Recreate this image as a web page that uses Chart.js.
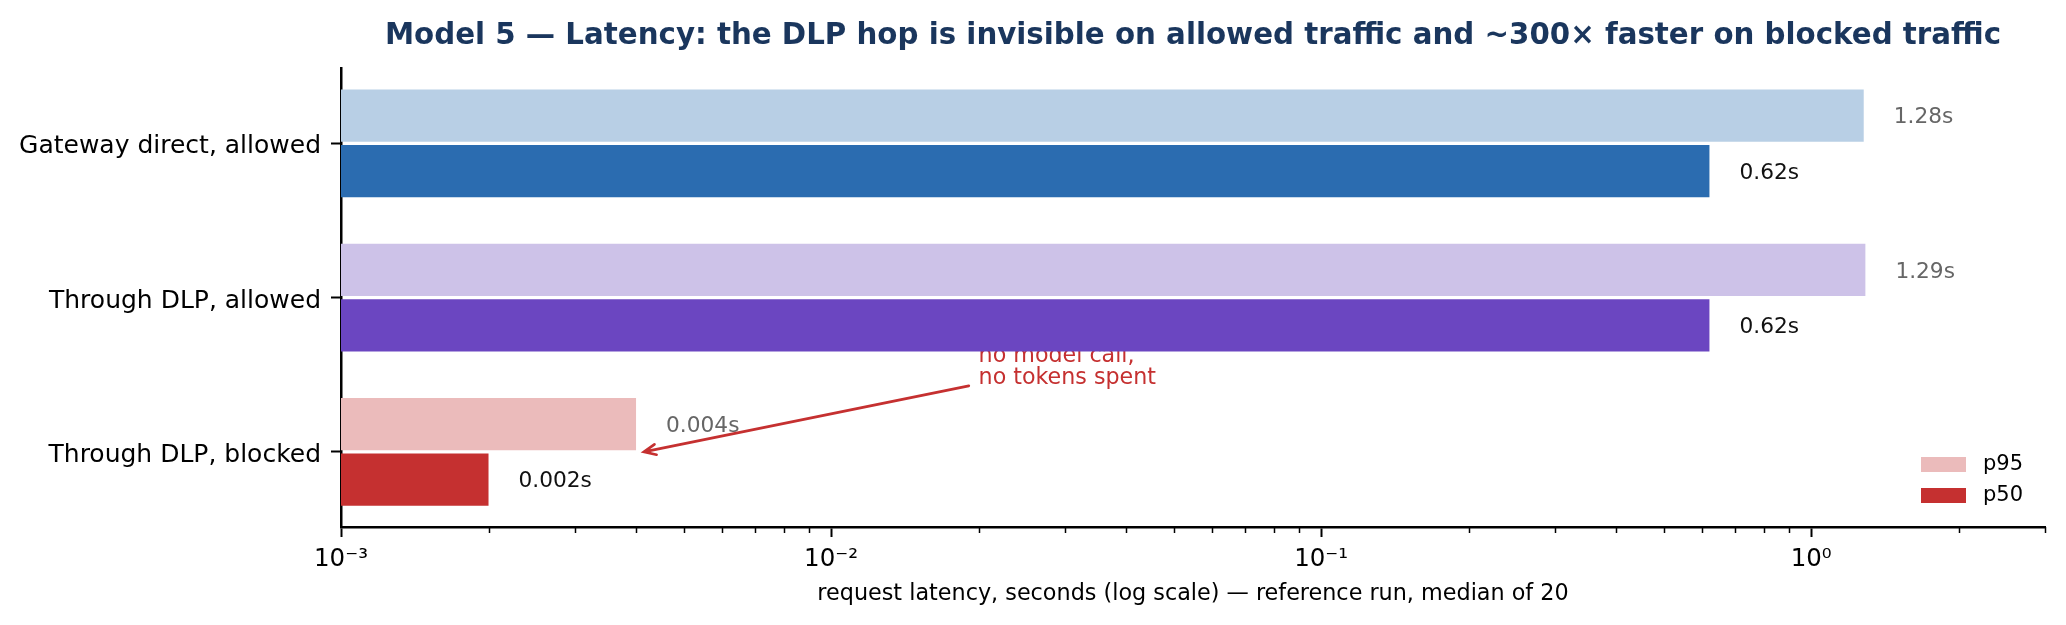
<!DOCTYPE html>
<html>
<head>
<meta charset="utf-8">
<script src="https://cdn.jsdelivr.net/npm/chart.js@4.4.1/dist/chart.umd.min.js"></script>
<style>
  html, body { margin: 0; padding: 0; background: #fff; }
  #wrap { width: 2066px; height: 625px; }
</style>
</head>
<body>
<div id="wrap"><canvas id="latency-chart" width="2066" height="625"></canvas></div>
<script>
/** Data */
const categories = ["Gateway direct, allowed", "Through DLP, allowed", "Through DLP, blocked"];
const p95Values = [1.28, 1.29, 0.004];
const p50Values = [0.62, 0.62, 0.002];
const seriesNames = ["p95", "p50"];

const xTickValues = [0.001, 0.01, 0.1, 1];
const xTickLabels = ["10\u207B\u00B3", "10\u207B\u00B2", "10\u207B\u00B9", "10\u2070"];
const xMin = 0.001;
const xMax = 3;

const titleText = "Model 5 \u2014 Latency: the DLP hop is invisible on allowed traffic and ~300\u00D7 faster on blocked traffic";
const xTitleText = "request latency, seconds (log scale) \u2014 reference run, median of 20";
const annotationLines = ["no model call,", "no tokens spent"];

/** Styles */
const p95Colors = ["#b8cfe5", "#cdc2e8", "#ebbbbb"];
const p50Colors = ["#2b6cb0", "#6b46c1", "#c53030"];
const legendColors = ["#ebbbbb", "#c53030"];
const labelColors = ["#666666", "#111111"];
const annotationColor = "#c53030";
const fontFamily = "'DejaVu Sans', sans-serif";

// matplotlib-like margin around the categories (in category units)
const yMargin = 0.487;

// annotation anchors in data units (x value, category index)
const annotationTextAt = [0.02, 1.56];
const arrowFrom = [0.0191, 1.572];
const arrowTo = [0.00415, 2.0];

Chart.defaults.font.family = fontFamily;
Chart.defaults.color = "#000";

function isDecade(v) {
    const e = Math.log10(v);
    return Math.abs(e - Math.round(e)) < 1e-6;
}

function formatSeconds(v) {
    return (v >= 0.1 ? v.toFixed(2) : v.toFixed(3)) + "s";
}

// text under the bars, so the purple bar clips the top line like the original
const annotationTextPlugin = {
    id: "annotationText",
    beforeDatasetsDraw(chart) {
        const ctx = chart.ctx;
        const xs = chart.scales.x;
        const ys = chart.scales.y;
        const x = xs.getPixelForValue(annotationTextAt[0]);
        const yLast = ys.getPixelForValue(annotationTextAt[1]);
        ctx.save();
        ctx.font = "22.2px " + fontFamily;
        ctx.fillStyle = annotationColor;
        ctx.textAlign = "left";
        ctx.textBaseline = "alphabetic";
        const n = annotationLines.length;
        annotationLines.forEach((line, i) => {
            ctx.fillText(line, x, yLast - (n - 1 - i) * 22.5);
        });
        ctx.restore();
    }
};

const overlayPlugin = {
    id: "overlay",
    afterDatasetsDraw(chart) {
        const ctx = chart.ctx;
        const xs = chart.scales.x;
        const ys = chart.scales.y;
        const area = chart.chartArea;
        ctx.save();

        // value labels at the end of each bar
        ctx.font = "21.7px " + fontFamily;
        ctx.textAlign = "left";
        ctx.textBaseline = "middle";
        chart.data.datasets.forEach((ds, di) => {
            const meta = chart.getDatasetMeta(di);
            ctx.fillStyle = labelColors[di];
            meta.data.forEach((bar, i) => {
                ctx.fillText(formatSeconds(ds.data[i]), bar.x + 30, bar.y + 2);
            });
        });

        // minor ticks on the log axis
        ctx.strokeStyle = "#000";
        ctx.lineWidth = 1.5;
        xs.ticks.forEach(t => {
            if (isDecade(t.value)) return;
            const px = Math.round(xs.getPixelForValue(t.value)) + 0.5;
            ctx.beginPath();
            ctx.moveTo(px, area.bottom);
            ctx.lineTo(px, area.bottom + 6);
            ctx.stroke();
        });

        // arrow of the annotation
        const x0 = xs.getPixelForValue(arrowFrom[0]);
        const y0 = ys.getPixelForValue(arrowFrom[1]);
        const x1 = xs.getPixelForValue(arrowTo[0]);
        const y1 = ys.getPixelForValue(arrowTo[1]);
        const ang = Math.atan2(y1 - y0, x1 - x0);
        const head = 13;
        ctx.strokeStyle = annotationColor;
        ctx.lineWidth = 2.7;
        ctx.lineCap = "round";
        ctx.beginPath();
        ctx.moveTo(x0, y0);
        ctx.lineTo(x1, y1);
        ctx.moveTo(x1 - head * Math.cos(ang - 0.42), y1 - head * Math.sin(ang - 0.42));
        ctx.lineTo(x1, y1);
        ctx.lineTo(x1 - head * Math.cos(ang + 0.42), y1 - head * Math.sin(ang + 0.42));
        ctx.stroke();

        // legend in the lower right corner of the plot
        ctx.font = "21px " + fontFamily;
        ctx.textBaseline = "middle";
        const lx = area.right - 124;
        seriesNames.forEach((name, i) => {
            const top = area.bottom - 70 + i * 31;
            ctx.fillStyle = legendColors[i];
            ctx.fillRect(lx, top, 45, 15);
            ctx.fillStyle = "#000";
            ctx.fillText(name, lx + 62, top + 8);
        });

        ctx.restore();
    }
};

const chart = new Chart("latency-chart", {
    type: "bar",
    data: {
        labels: categories,
        datasets: [{
            label: seriesNames[0],
            data: p95Values,
            backgroundColor: p95Colors,
            borderWidth: 0,
            categoryPercentage: 0.7205,
            barPercentage: 0.9406
        }, {
            label: seriesNames[1],
            data: p50Values,
            backgroundColor: p50Colors,
            borderWidth: 0,
            categoryPercentage: 0.7205,
            barPercentage: 0.9406
        }]
    },
    options: {
        indexAxis: "y",
        responsive: false,
        animation: false,
        devicePixelRatio: 1,
        layout: { padding: { left: 0, right: 21, top: 0, bottom: 0 } },
        plugins: {
            legend: { display: false },
            tooltip: { enabled: false },
            title: {
                display: true,
                text: titleText,
                fullSize: false,
                color: "#1a365d",
                font: { size: 29.3, weight: "bold", family: fontFamily, lineHeight: 1.2 },
                padding: { top: 19, bottom: 14.2 }
            }
        },
        scales: {
            x: {
                type: "logarithmic",
                position: "bottom",
                min: xMin,
                max: xMax,
                afterBuildTicks(scale) {
                    const ticks = [];
                    xTickValues.forEach(dec => {
                        for (let m = 1; m <= 9; m++) {
                            const v = parseFloat((m * dec).toPrecision(3));
                            if (v <= xMax * 1.0001) ticks.push({ value: v });
                        }
                    });
                    scale.ticks = ticks;
                },
                afterFit(scale) {
                    scale.height = 98;
                },
                ticks: {
                    autoSkip: false,
                    maxRotation: 0,
                    padding: 8,
                    color: "#000",
                    font: { size: 24.5 },
                    callback(value) {
                        const i = xTickValues.findIndex(t => Math.abs(t - value) < value * 1e-6);
                        return i >= 0 ? xTickLabels[i] : "";
                    }
                },
                grid: {
                    display: true,
                    drawOnChartArea: false,
                    drawTicks: true,
                    tickLength: 10,
                    tickWidth: 2,
                    tickColor: ctx => (ctx.tick && isDecade(ctx.tick.value)) ? "#000" : "rgba(0,0,0,0)"
                },
                border: { display: true, color: "#000", width: 2.5 },
                title: {
                    display: true,
                    text: xTitleText,
                    color: "#000",
                    font: { size: 22.3, lineHeight: 1.2 },
                    padding: { top: 0, bottom: 17 }
                }
            },
            y: {
                type: "category",
                position: "left",
                afterBuildTicks(scale) {
                    // slightly tighter margins than the default half category
                    scale._startValue = -yMargin;
                    scale._valueRange = categories.length - 1 + 2 * yMargin;
                },
                afterFit(scale) {
                    scale.width = 341;
                },
                ticks: {
                    padding: 10,
                    labelOffset: 3.5,
                    color: "#000",
                    font: { size: 25 }
                },
                grid: {
                    display: true,
                    offset: false,
                    drawOnChartArea: false,
                    drawTicks: true,
                    tickLength: 10,
                    tickWidth: 2,
                    tickColor: "#000"
                },
                border: { display: true, color: "#000", width: 2.5 }
            }
        }
    },
    plugins: [annotationTextPlugin, overlayPlugin]
});
</script>
</body>
</html>
